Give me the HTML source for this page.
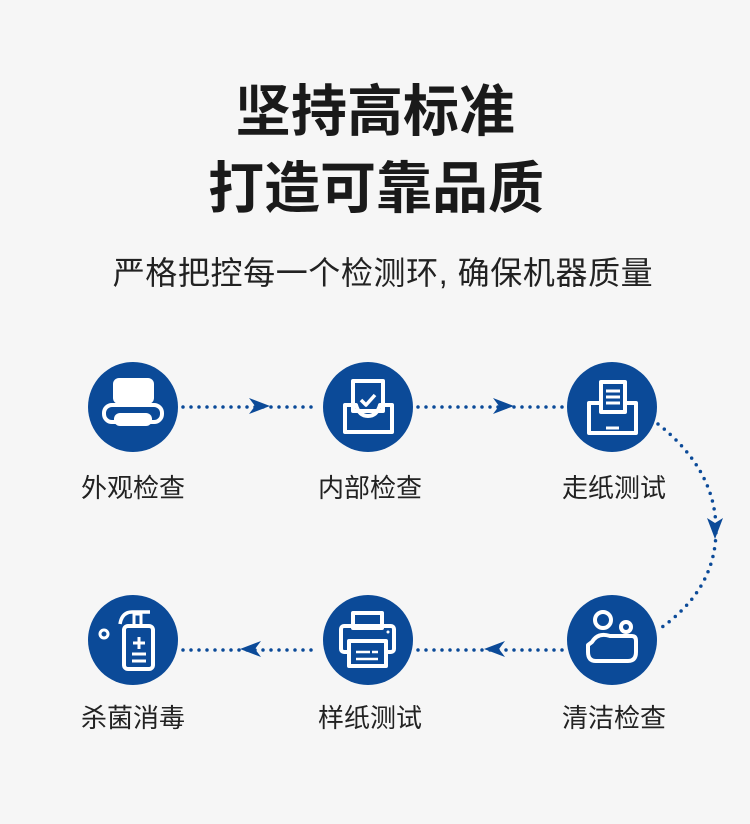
<!DOCTYPE html>
<html><head><meta charset="utf-8"><style>
html,body{margin:0;padding:0;background:#f6f6f6;}
svg{display:block;}
text{font-family:"Liberation Sans","Noto Sans CJK SC",sans-serif;}
</style></head><body>
<svg width="750" height="824" viewBox="0 0 750 824" xmlns="http://www.w3.org/2000/svg">
<rect width="750" height="824" fill="#f6f6f6"/>
<text x="375" y="131" text-anchor="middle" font-size="56" font-weight="bold" fill="#1a1a1a">坚持高标准</text>
<text x="376" y="208" text-anchor="middle" font-size="56" font-weight="bold" fill="#1a1a1a">打造可靠品质</text>
<text x="383" y="284" text-anchor="middle" font-size="32" letter-spacing="0.6" fill="#222">严格把控每一个检测环, 确保机器质量</text>

<g stroke="#0b4a98" stroke-width="3.5" stroke-linecap="round" stroke-dasharray="0 8" fill="none">
<line x1="183" y1="407" x2="318" y2="407"/>
<line x1="418" y1="407" x2="563" y2="407"/>
<path d="M658 424 Q716 470 716 530 Q716 590 658 630"/>
<line x1="183" y1="650" x2="318" y2="650"/>
<line x1="418" y1="650" x2="563" y2="650"/>
</g>
<g fill="#0b4a98">
<path d="M249 398 L270 406 L249 414 L255 406Z"/>
<path d="M493 398 L514 406 L493 414 L499 406Z"/>
<path d="M707 518 L715 539 L723 518 L715 523Z"/>
<path d="M261 641 L240 649 L261 657 L255 649Z"/>
<path d="M505 641 L484 649 L505 657 L499 649Z"/>
<circle cx="133" cy="407" r="45"/>
<circle cx="368" cy="407" r="45"/>
<circle cx="612" cy="407" r="45"/>
<circle cx="133" cy="640" r="45"/>
<circle cx="368" cy="640" r="45"/>
<circle cx="612" cy="640" r="45"/>
</g>
<g fill="none" stroke="#fff" stroke-width="4" stroke-linejoin="round">
<rect x="115" y="380" width="37" height="22" rx="4" fill="#fff"/>
<rect x="104" y="405" width="58" height="17" rx="8"/>
<rect x="114" y="413" width="38" height="13" rx="6" fill="#fff" stroke="none"/>
<rect x="353" y="381" width="30" height="30"/>
<path d="M345 405 V432 H392 V405 H380 Q377 416 368 416 Q359 416 356 405 Z"/>
<path d="M361 400 L366 405 L375 395" stroke-width="3.5"/>
<rect x="601" y="382" width="24" height="30"/>
<path d="M606 391 H620 M606 397 H620 M606 403 H620" stroke-width="3"/>
<path d="M601 403 H589 V433 H636 V403 H625"/>
<line x1="606" y1="428" x2="619" y2="428" stroke-width="3"/>
<circle cx="603" cy="620" r="8"/>
<circle cx="626" cy="627" r="5"/>
<path d="M592 642 Q598 632 610 636 L632 636 Q636 636 636 641 V652 Q636 661 628 661 H596 Q588 661 588 652 V645 Z"/>
<rect x="353" y="613" width="29" height="15"/>
<rect x="341" y="626" width="53" height="26" rx="3"/>
<rect x="349" y="641" width="37" height="25" fill="#0b4a98"/>
<path d="M356 652 H370 M372 652 H378 M356 659 H378" stroke-width="2.5"/>
<circle cx="388" cy="632" r="1.5" fill="#fff" stroke="none"/>
<circle cx="104" cy="634" r="4" stroke-width="3"/>
<path d="M120 624 Q122 612 132 612 H150" stroke-width="3.5"/>
<rect x="134" y="614" width="7" height="12" stroke-width="3"/>
<rect x="124" y="626" width="29" height="43" rx="4"/>
<path d="M139 637 V649 M133 643 H145 M132 654 H146 M132 661 H146" stroke-width="3"/>
</g>
<g font-size="26" fill="#222" text-anchor="middle">
<text x="133" y="497">外观检查</text>
<text x="370" y="497">内部检查</text>
<text x="614" y="497">走纸测试</text>
<text x="133" y="727">杀菌消毒</text>
<text x="370" y="727">样纸测试</text>
<text x="614" y="727">清洁检查</text>
</g>
</svg>
</body></html>
